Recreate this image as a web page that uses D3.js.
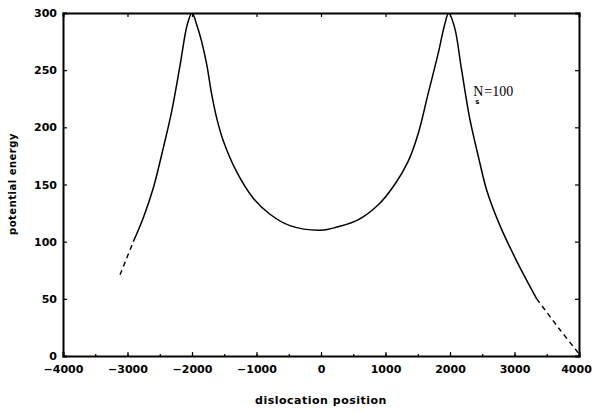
<!doctype html>
<html lang="en">
<head>
  <meta charset="utf-8">
  <script src="https://d3js.org/d3.v7.min.js"></script>
  <style>
    body { margin: 0; background: #fff; }
    .tick text { font-family: "DejaVu Sans", sans-serif; font-weight: bold; font-size: 11px; fill: #000; }
  </style>
</head>
<body>
  <script>
    var width = 593,
        height = 411;
    var margin = {top: 13, right: 14, bottom: 55, left: 63};

    // dislocation position and potential energy
    var position = [-3116, -2910, -2755, -2600, -2445, -2315, -2186, -2073, -2000,
                    -1928, -1850, -1772, -1695, -1617, -1514, -1307, -1050, -791, -481, 0,
                    264, 574, 884, 1143, 1349, 1504, 1659, 1814, 1918, 1980,
                    2073, 2175, 2305, 2450, 2569, 2775, 3034, 3344, 3705, 4000];
    var energy = [71, 100, 121, 147, 182, 214, 254, 290, 300,
                  290, 275, 255, 229, 208, 188, 161, 138, 124, 114, 110,
                  113, 119, 132, 150, 170, 194, 229, 264, 290, 300,
                  287, 252, 208, 172, 145, 114, 83, 50, 23, 2];

    var xTicks = [-4000, -3000, -2000, -1000, 0, 1000, 2000, 3000, 4000];
    var yTicks = [0, 50, 100, 150, 200, 250, 300];

    var pts = position.map(function(d, i) { return {x: d, y: energy[i]}; });

    var svg = d3.select("body").append("svg")
        .attr("width", width)
        .attr("height", height);

    var x = d3.scaleLinear().domain([-4000, 4000]).range([margin.left, width - margin.right]);
    var y = d3.scaleLinear().domain([0, 300]).range([height - margin.bottom, margin.top]);

    svg.append("clipPath").attr("id", "plot")
      .append("rect")
        .attr("x", x(-4000)).attr("y", y(300))
        .attr("width", x(4000) - x(-4000)).attr("height", y(0) - y(300));

    // minor ticks on the bottom
    var minor = d3.range(-4000, 4001, 500);

    svg.append("g")
        .attr("transform", "translate(0," + y(0) + ")")
        .call(d3.axisBottom(x).tickValues(minor).tickSize(-2).tickFormat(""))
        .call(function(g) { g.select(".domain").remove(); });

    var xAxis = svg.append("g")
        .attr("transform", "translate(0," + y(0) + ")")
        .call(d3.axisBottom(x).tickValues(xTicks).tickSize(-4).tickPadding(9)
              .tickFormat(function(d) { return d < 0 ? "\u2212" + Math.abs(d) : d; }));
    xAxis.selectAll(".tick text").filter(function(d) { return d === 4000; }).attr("dx", -3);

    var xTop = svg.append("g")
        .attr("transform", "translate(0," + y(300) + ")")
        .call(d3.axisTop(x).tickValues(xTicks).tickSize(-4).tickFormat(""));

    var yAxis = svg.append("g")
        .attr("transform", "translate(" + x(-4000) + ",0)")
        .call(d3.axisLeft(y).tickValues(yTicks).tickSize(-4).tickPadding(6));

    var yRight = svg.append("g")
        .attr("transform", "translate(" + x(4000) + ",0)")
        .call(d3.axisRight(y).tickValues(yTicks).tickSize(-4).tickFormat(""));

    svg.selectAll(".domain").attr("stroke-width", 2).attr("stroke", "#000");
    svg.selectAll(".tick line").attr("stroke", "#000").attr("stroke-width", 1.2);

    // the curve
    var line = d3.line()
        .x(function(d) { return x(d.x); })
        .y(function(d) { return y(d.y); })
        .curve(d3.curveCatmullRom.alpha(0.5));

    var solid = pts.filter(function(d) { return d.x >= -2910 && d.x <= 3344; });
    var leftTail = pts.filter(function(d) { return d.x <= -2910; });
    var rightTail = pts.filter(function(d) { return d.x >= 3344; });

    svg.append("path")
        .datum(solid)
        .attr("clip-path", "url(#plot)")
        .attr("fill", "none")
        .attr("stroke", "#000")
        .attr("stroke-width", 1.5)
        .attr("d", line);

    [leftTail, rightTail].forEach(function(t) {
      svg.append("path")
          .datum(t)
          .attr("fill", "none")
          .attr("stroke", "#000")
          .attr("stroke-width", 1.4)
          .attr("stroke-dasharray", "5,4")
          .attr("d", line);
    });

    // axis titles
    svg.append("text")
        .attr("x", x(0))
        .attr("y", 404)
        .attr("text-anchor", "middle")
        .style("font-family", "DejaVu Sans, sans-serif")
        .style("font-weight", "bold")
        .style("font-size", "11px")
        .style("letter-spacing", "0.5px")
        .text("dislocation position");

    svg.append("text")
        .attr("transform", "translate(16,184) rotate(-90)")
        .attr("text-anchor", "middle")
        .style("font-family", "DejaVu Sans, sans-serif")
        .style("font-weight", "bold")
        .style("font-size", "10px")
        .style("letter-spacing", "0.5px")
        .text("potential energy");

    // annotation N_s = 100
    var ann = svg.append("text")
        .attr("x", x(2360))
        .attr("y", 96)
        .attr("fill", "#000")
        .style("font-family", "Liberation Serif, serif")
        .style("font-size", "14px");
    ann.append("tspan").text("N");
    ann.append("tspan").attr("dx", 1).text("=100");

    svg.append("text")
        .attr("x", x(2360) + 2)
        .attr("y", 104)
        .attr("fill", "#000")
        .style("font-family", "DejaVu Sans, sans-serif")
        .style("font-weight", "bold")
        .style("font-size", "7px")
        .text("s");
  </script>
</body>
</html>
